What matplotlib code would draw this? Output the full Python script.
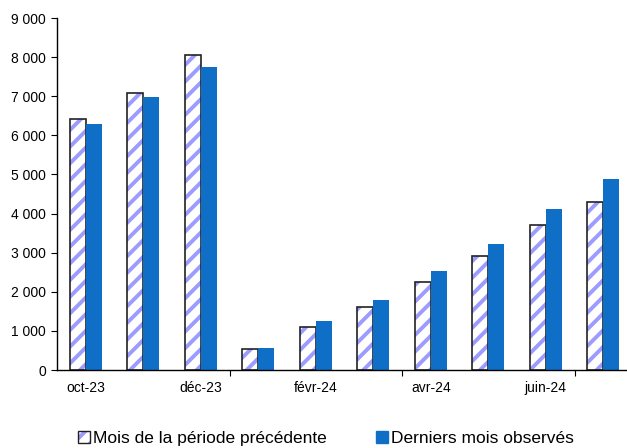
import matplotlib.pyplot as plt
import numpy as np
from matplotlib.patches import Patch
from matplotlib.legend_handler import HandlerTuple
from matplotlib.ticker import FuncFormatter

plt.rcParams['font.family'] = ['Liberation Sans', 'DejaVu Sans']
plt.rcParams['hatch.linewidth'] = 2.8

# data
mois = ["oct-23", "nov-23", "déc-23", "janv-24", "févr-24",
        "mars-24", "avr-24", "mai-24", "juin-24", "juil-24"]
periode_prec = [6420, 7090, 8050, 530, 1100, 1620, 2260, 2910, 3700, 4300]
derniers_mois = [6280, 6980, 7750, 570, 1250, 1800, 2520, 3210, 4120, 4890]

hatch_col = "#9C9CFF"
blue = "#0F6FC6"

fig = plt.figure(figsize=(6.27, 4.48), dpi=100)
ax = fig.add_axes([57 / 627, 78 / 448, 575 / 627, 352 / 448])

x = np.arange(len(mois))
w = 0.28
# hatched bars: hatch drawn in light purple, outline in black on top
ax.bar(x - w / 2, periode_prec, w, color="white", edgecolor=hatch_col,
       hatch="//", linewidth=0)
ax.bar(x - w / 2, periode_prec, w, fill=False, edgecolor="#222222", linewidth=1.2)
ax.bar(x + w / 2, derniers_mois, w, color=blue, linewidth=0)

ax.set_xlim(-0.5, len(mois) - 0.5)
ax.set_ylim(0, 9000)
ax.set_yticks(range(0, 9001, 1000))
ax.yaxis.set_major_formatter(FuncFormatter(lambda v, p: f"{int(v):,}".replace(",", " ")))

# ticks every 3 months at boundaries, labels every 2 months
ax.set_xticks([2.5, 5.5, 8.5])
ax.set_xticklabels([])
ax.set_xticks(x[::2], minor=True)
ax.set_xticklabels(mois[::2], minor=True)
ax.tick_params(axis="x", which="minor", length=0, pad=8, labelsize=10)
ax.tick_params(axis="x", which="major", length=4, direction="out")
ax.tick_params(axis="y", length=4, direction="out", labelsize=10, pad=4)

for s in ["top", "right"]:
    ax.spines[s].set_visible(False)
for s in ["left", "bottom"]:
    ax.spines[s].set_linewidth(1)

h_hatch = (Patch(facecolor="white", edgecolor=hatch_col, hatch="//", linewidth=0),
           Patch(fill=False, edgecolor="#222222", linewidth=1))
h_blue = Patch(facecolor=blue, edgecolor=blue)
leg = fig.legend([h_hatch, h_blue], ["Mois de la période précédente", "Derniers mois observés"],
                 handler_map={tuple: HandlerTuple(ndivide=1)},
                 loc="center", bbox_to_anchor=(0.52, 0.022), ncol=2, frameon=False,
                 fontsize=12.5, handlelength=0.7, handleheight=0.7,
                 handletextpad=0.2, columnspacing=2.8)

fig.savefig("out.png", dpi=100)
